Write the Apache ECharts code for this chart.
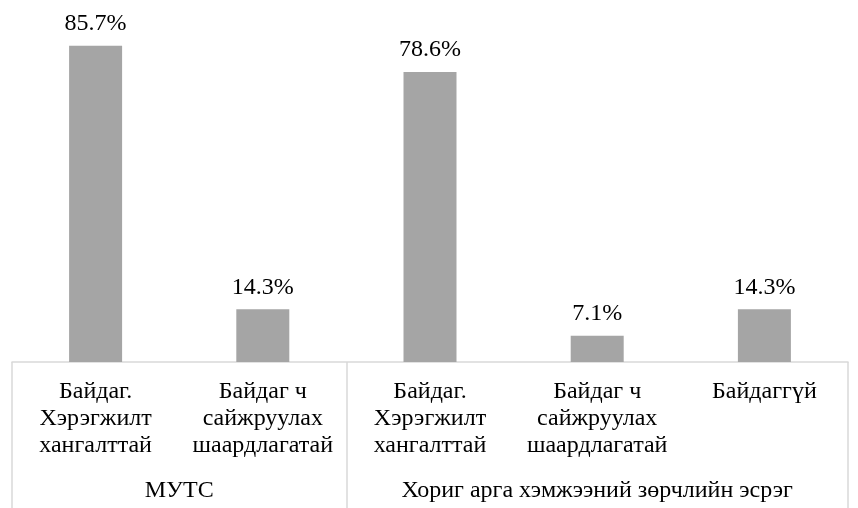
<!DOCTYPE html>
<html>
<head>
<meta charset="utf-8">
<script src="https://cdn.jsdelivr.net/npm/echarts@6/dist/echarts.min.js"></script>
<style>
  html, body { margin: 0; padding: 0; background: #fff; }
  #chart { width: 858px; height: 508px; }
</style>
</head>
<body>
<div id="chart"></div>
<script>
// ---------- data ----------
var categories = [
  'Байдаг.\nХэрэгжилт\nхангалттай',
  'Байдаг ч\nсайжруулах\nшаардлагатай',
  'Байдаг.\nХэрэгжилт\nхангалттай',
  'Байдаг ч\nсайжруулах\nшаардлагатай',
  'Байдаггүй'
];
var values = [85.7, 14.3, 78.6, 7.1, 14.3];
var groupNames = ['МУТС', 'Хориг арга хэмжээний зөрчлийн эсрэг'];
var groupSizes = [2, 3];

// group boundaries and centres on a 0..n scale
var bounds = [0], centres = [];
groupSizes.forEach(function (n, i) {
  var start = bounds[bounds.length - 1];
  bounds.push(start + n);
  centres.push(start + n / 2);
});

var font = "'Liberation Serif', 'Times New Roman', serif";
var lineColor = '#d9d9d9';

var option = {
  animation: false,
  grid: { left: 12, right: 10, top: 30, bottom: 146 },
  xAxis: [
    {
      type: 'category',
      data: categories,
      axisLine: { lineStyle: { color: lineColor, width: 1.5 } },
      axisTick: { show: false },
      axisLabel: {
        interval: 0,
        margin: 16,
        color: '#000',
        fontFamily: font,
        fontSize: 24,
        lineHeight: 27,
        align: 'center'
      }
    },
    {
      type: 'value',
      min: 0,
      max: categories.length,
      position: 'bottom',
      axisLine: { show: false },
      splitLine: { show: false },
      axisTick: {
        show: true,
        customValues: bounds,
        length: 146,
        lineStyle: { color: lineColor, width: 1.5 }
      },
      axisLabel: {
        customValues: centres,
        margin: 117,
        color: '#000',
        fontFamily: font,
        fontSize: 24,
        formatter: function (v) {
          var i = centres.indexOf(v);
          return i >= 0 ? groupNames[i] : '';
        }
      }
    }
  ],
  yAxis: {
    type: 'value',
    min: 0,
    max: 90,
    show: false,
    splitLine: { show: false }
  },
  series: [
    {
      type: 'bar',
      xAxisIndex: 0,
      data: values,
      barWidth: 53,
      itemStyle: { color: '#a5a5a5' },
      label: {
        show: true,
        position: 'top',
        distance: 10,
        color: '#000',
        fontFamily: font,
        fontSize: 24,
        formatter: '{c}%'
      }
    }
  ]
};

echarts.init(document.getElementById('chart')).setOption(option);
</script>
</body>
</html>
